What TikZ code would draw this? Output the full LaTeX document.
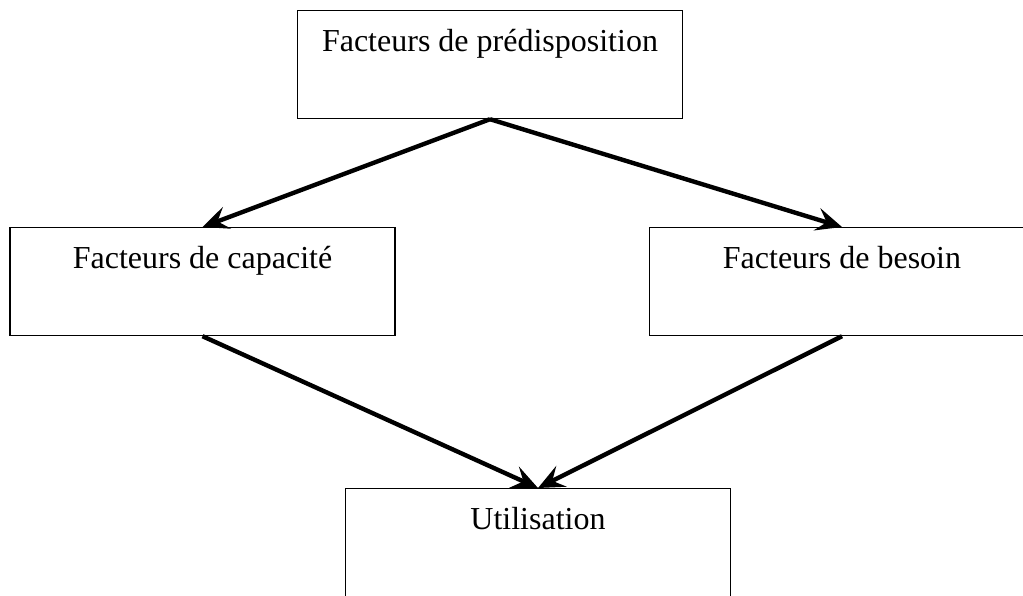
\documentclass[tikz,border=0pt]{standalone}
\usepackage{fontspec}
\setmainfont{Liberation Serif}
\usetikzlibrary{arrows.meta}
\begin{document}
\begin{tikzpicture}[x=0.5pt,y=-0.5pt]
				% styles
				\tikzstyle{facteur} += [draw,line width=0.6pt,inner ysep=0pt,minimum width=192.5pt,
				text height=20.5pt,text depth=33.5pt,font=\fontsize{16}{19}\selectfont,anchor=north]
				\tikzstyle{fleche} += [line width=2.2pt,-{Stealth[length=13pt,width=11.5pt,inset=5pt]}]
				
				% bounding box
				\useasboundingbox (0,0) rectangle (1023,595);
				
				% boxes
				\node[facteur] (predisp) at (490,10) {Facteurs de prédisposition};
				\node[facteur] (capacite) at (202.5,227) {Facteurs de capacité};
				\node[facteur] (besoin) at (842,227) {Facteurs de besoin};
				\node[facteur] (utilis) at (538,488) {Utilisation};
				
				% arrows
				\draw[fleche] (predisp.south) -- (capacite.north);
				\draw[fleche] (predisp.south) -- (besoin.north);
				\draw[fleche] (capacite.south) -- (utilis.north);
				\draw[fleche] (besoin.south) -- (utilis.north);
			\end{tikzpicture}
\end{document}
